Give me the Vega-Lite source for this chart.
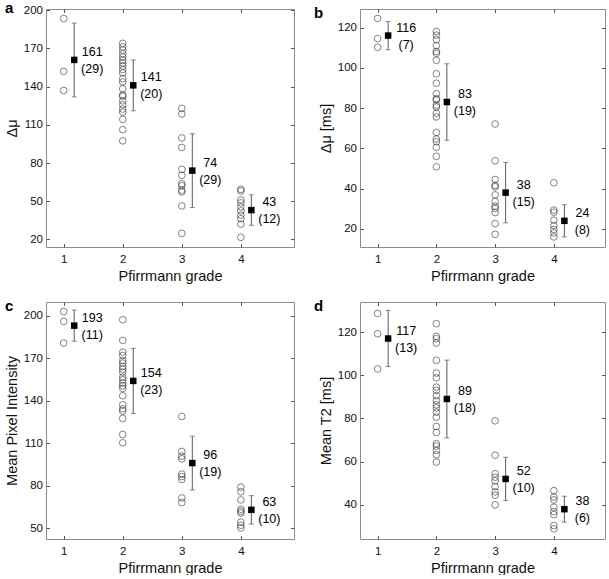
{
  "$schema": "https://vega.github.io/schema/vega-lite/v6.json",
  "padding": {"left": 3, "top": 0, "right": 0, "bottom": 0},
  "config": {
    "font": "Liberation Sans",
    "view": {"stroke": "#8c8c8c", "strokeWidth": 1},
    "axis": {
      "domain": false, "grid": false, "tickSize": -3.5, "tickColor": "#555",
      "labelFont": "Liberation Sans", "labelFontSize": 11.5, "labelColor": "#111", "labelPadding": 7,
      "titleFont": "Liberation Sans", "titleFontSize": 14.5, "titleFontWeight": "normal", "titleColor": "#111"
    },
    "axisX": {"labelPadding": 10},
    "title": {"font": "Liberation Sans", "fontSize": 15, "fontWeight": "bold", "color": "#000", "anchor": "start", "frame": "group", "baseline": "alphabetic", "offset": -4, "dy": 8}
  },
  "datasets": {
    "points": [
      {"panel": "a", "grade": 1, "value": 193.5}, {"panel": "a", "grade": 1, "value": 152}, {"panel": "a", "grade": 1, "value": 137},
      {"panel": "a", "grade": 2, "value": 174}, {"panel": "a", "grade": 2, "value": 171.3}, {"panel": "a", "grade": 2, "value": 168.7}, {"panel": "a", "grade": 2, "value": 165.9},
      {"panel": "a", "grade": 2, "value": 163.3}, {"panel": "a", "grade": 2, "value": 160.7}, {"panel": "a", "grade": 2, "value": 158.6}, {"panel": "a", "grade": 2, "value": 156.2},
      {"panel": "a", "grade": 2, "value": 153.4}, {"panel": "a", "grade": 2, "value": 150.8}, {"panel": "a", "grade": 2, "value": 146.3}, {"panel": "a", "grade": 2, "value": 143.7},
      {"panel": "a", "grade": 2, "value": 138.3}, {"panel": "a", "grade": 2, "value": 133.3}, {"panel": "a", "grade": 2, "value": 132.5}, {"panel": "a", "grade": 2, "value": 128.9},
      {"panel": "a", "grade": 2, "value": 125.8}, {"panel": "a", "grade": 2, "value": 122.4}, {"panel": "a", "grade": 2, "value": 120}, {"panel": "a", "grade": 2, "value": 114.3},
      {"panel": "a", "grade": 2, "value": 106.2}, {"panel": "a", "grade": 2, "value": 97.4},
      {"panel": "a", "grade": 3, "value": 122.9}, {"panel": "a", "grade": 3, "value": 118.5}, {"panel": "a", "grade": 3, "value": 99.7}, {"panel": "a", "grade": 3, "value": 92.2},
      {"panel": "a", "grade": 3, "value": 75}, {"panel": "a", "grade": 3, "value": 70.3}, {"panel": "a", "grade": 3, "value": 63.8}, {"panel": "a", "grade": 3, "value": 62.2},
      {"panel": "a", "grade": 3, "value": 58.6}, {"panel": "a", "grade": 3, "value": 57.3}, {"panel": "a", "grade": 3, "value": 46.3}, {"panel": "a", "grade": 3, "value": 24.7},
      {"panel": "a", "grade": 4, "value": 59.3}, {"panel": "a", "grade": 4, "value": 58}, {"panel": "a", "grade": 4, "value": 51}, {"panel": "a", "grade": 4, "value": 48.7},
      {"panel": "a", "grade": 4, "value": 45.5}, {"panel": "a", "grade": 4, "value": 42.4}, {"panel": "a", "grade": 4, "value": 39}, {"panel": "a", "grade": 4, "value": 36.2},
      {"panel": "a", "grade": 4, "value": 32}, {"panel": "a", "grade": 4, "value": 21.6},

      {"panel": "b", "grade": 1, "value": 124.5}, {"panel": "b", "grade": 1, "value": 114.5}, {"panel": "b", "grade": 1, "value": 110.2},
      {"panel": "b", "grade": 2, "value": 118}, {"panel": "b", "grade": 2, "value": 116.2}, {"panel": "b", "grade": 2, "value": 114}, {"panel": "b", "grade": 2, "value": 111},
      {"panel": "b", "grade": 2, "value": 108.1}, {"panel": "b", "grade": 2, "value": 107.2}, {"panel": "b", "grade": 2, "value": 103.7}, {"panel": "b", "grade": 2, "value": 97},
      {"panel": "b", "grade": 2, "value": 92.3}, {"panel": "b", "grade": 2, "value": 87.2}, {"panel": "b", "grade": 2, "value": 84.7}, {"panel": "b", "grade": 2, "value": 84},
      {"panel": "b", "grade": 2, "value": 81.4}, {"panel": "b", "grade": 2, "value": 80.5}, {"panel": "b", "grade": 2, "value": 77.4}, {"panel": "b", "grade": 2, "value": 75.6},
      {"panel": "b", "grade": 2, "value": 67.9}, {"panel": "b", "grade": 2, "value": 64.6}, {"panel": "b", "grade": 2, "value": 63.3}, {"panel": "b", "grade": 2, "value": 60.5},
      {"panel": "b", "grade": 2, "value": 56}, {"panel": "b", "grade": 2, "value": 50.8},
      {"panel": "b", "grade": 3, "value": 72.1}, {"panel": "b", "grade": 3, "value": 53.8}, {"panel": "b", "grade": 3, "value": 44.5}, {"panel": "b", "grade": 3, "value": 41.6},
      {"panel": "b", "grade": 3, "value": 40.9}, {"panel": "b", "grade": 3, "value": 36.9}, {"panel": "b", "grade": 3, "value": 33.6}, {"panel": "b", "grade": 3, "value": 31.3},
      {"panel": "b", "grade": 3, "value": 30.1}, {"panel": "b", "grade": 3, "value": 28.1}, {"panel": "b", "grade": 3, "value": 22.6}, {"panel": "b", "grade": 3, "value": 17.3},
      {"panel": "b", "grade": 4, "value": 42.9}, {"panel": "b", "grade": 4, "value": 29.3}, {"panel": "b", "grade": 4, "value": 28.3}, {"panel": "b", "grade": 4, "value": 24.3},
      {"panel": "b", "grade": 4, "value": 21.7}, {"panel": "b", "grade": 4, "value": 19.7}, {"panel": "b", "grade": 4, "value": 18}, {"panel": "b", "grade": 4, "value": 16},

      {"panel": "c", "grade": 1, "value": 203}, {"panel": "c", "grade": 1, "value": 196}, {"panel": "c", "grade": 1, "value": 180.7},
      {"panel": "c", "grade": 2, "value": 197.2}, {"panel": "c", "grade": 2, "value": 182.6}, {"panel": "c", "grade": 2, "value": 174.3}, {"panel": "c", "grade": 2, "value": 172},
      {"panel": "c", "grade": 2, "value": 168.4}, {"panel": "c", "grade": 2, "value": 166.6}, {"panel": "c", "grade": 2, "value": 164.2}, {"panel": "c", "grade": 2, "value": 162.3},
      {"panel": "c", "grade": 2, "value": 160.2}, {"panel": "c", "grade": 2, "value": 156.7}, {"panel": "c", "grade": 2, "value": 154.8}, {"panel": "c", "grade": 2, "value": 152.4},
      {"panel": "c", "grade": 2, "value": 150.5}, {"panel": "c", "grade": 2, "value": 148.7}, {"panel": "c", "grade": 2, "value": 143.5}, {"panel": "c", "grade": 2, "value": 137.1},
      {"panel": "c", "grade": 2, "value": 134.3}, {"panel": "c", "grade": 2, "value": 132.7}, {"panel": "c", "grade": 2, "value": 127.5}, {"panel": "c", "grade": 2, "value": 116.2},
      {"panel": "c", "grade": 2, "value": 110.3},
      {"panel": "c", "grade": 3, "value": 128.9}, {"panel": "c", "grade": 3, "value": 104.2}, {"panel": "c", "grade": 3, "value": 100.9}, {"panel": "c", "grade": 3, "value": 99},
      {"panel": "c", "grade": 3, "value": 88.2}, {"panel": "c", "grade": 3, "value": 86.5}, {"panel": "c", "grade": 3, "value": 84.4}, {"panel": "c", "grade": 3, "value": 71.4},
      {"panel": "c", "grade": 3, "value": 68.1},
      {"panel": "c", "grade": 4, "value": 79}, {"panel": "c", "grade": 4, "value": 75.7}, {"panel": "c", "grade": 4, "value": 70}, {"panel": "c", "grade": 4, "value": 63.4},
      {"panel": "c", "grade": 4, "value": 62}, {"panel": "c", "grade": 4, "value": 60.8}, {"panel": "c", "grade": 4, "value": 54.3}, {"panel": "c", "grade": 4, "value": 52.1},
      {"panel": "c", "grade": 4, "value": 50.2},

      {"panel": "d", "grade": 1, "value": 128.6}, {"panel": "d", "grade": 1, "value": 119.2}, {"panel": "d", "grade": 1, "value": 102.9},
      {"panel": "d", "grade": 2, "value": 123.9}, {"panel": "d", "grade": 2, "value": 118}, {"panel": "d", "grade": 2, "value": 116.9}, {"panel": "d", "grade": 2, "value": 114.9},
      {"panel": "d", "grade": 2, "value": 106.9}, {"panel": "d", "grade": 2, "value": 101}, {"panel": "d", "grade": 2, "value": 98.8}, {"panel": "d", "grade": 2, "value": 94.5},
      {"panel": "d", "grade": 2, "value": 93}, {"panel": "d", "grade": 2, "value": 90.5}, {"panel": "d", "grade": 2, "value": 88.3}, {"panel": "d", "grade": 2, "value": 86.3},
      {"panel": "d", "grade": 2, "value": 84.9}, {"panel": "d", "grade": 2, "value": 82.9}, {"panel": "d", "grade": 2, "value": 80.6}, {"panel": "d", "grade": 2, "value": 76.3},
      {"panel": "d", "grade": 2, "value": 73.5}, {"panel": "d", "grade": 2, "value": 68.3}, {"panel": "d", "grade": 2, "value": 67.2}, {"panel": "d", "grade": 2, "value": 65.2},
      {"panel": "d", "grade": 2, "value": 63.2}, {"panel": "d", "grade": 2, "value": 59.8},
      {"panel": "d", "grade": 3, "value": 78.9}, {"panel": "d", "grade": 3, "value": 63}, {"panel": "d", "grade": 3, "value": 54.4}, {"panel": "d", "grade": 3, "value": 52.8},
      {"panel": "d", "grade": 3, "value": 51.1}, {"panel": "d", "grade": 3, "value": 48.5}, {"panel": "d", "grade": 3, "value": 46}, {"panel": "d", "grade": 3, "value": 44.5},
      {"panel": "d", "grade": 3, "value": 40},
      {"panel": "d", "grade": 4, "value": 46.6}, {"panel": "d", "grade": 4, "value": 43.6}, {"panel": "d", "grade": 4, "value": 42.3}, {"panel": "d", "grade": 4, "value": 38.9},
      {"panel": "d", "grade": 4, "value": 36.9}, {"panel": "d", "grade": 4, "value": 35.5}, {"panel": "d", "grade": 4, "value": 30.4}, {"panel": "d", "grade": 4, "value": 28.9}
    ],
    "summary": [
      {"panel": "a", "grade": 1, "mean": 161, "sd": 29, "lo": 132, "hi": 190},
      {"panel": "a", "grade": 2, "mean": 141, "sd": 20, "lo": 121, "hi": 161},
      {"panel": "a", "grade": 3, "mean": 74, "sd": 29, "lo": 45, "hi": 103},
      {"panel": "a", "grade": 4, "mean": 43, "sd": 12, "lo": 31, "hi": 55},
      {"panel": "b", "grade": 1, "mean": 116, "sd": 7, "lo": 109, "hi": 123},
      {"panel": "b", "grade": 2, "mean": 83, "sd": 19, "lo": 64, "hi": 102},
      {"panel": "b", "grade": 3, "mean": 38, "sd": 15, "lo": 23, "hi": 53},
      {"panel": "b", "grade": 4, "mean": 24, "sd": 8, "lo": 16, "hi": 32},
      {"panel": "c", "grade": 1, "mean": 193, "sd": 11, "lo": 182, "hi": 204},
      {"panel": "c", "grade": 2, "mean": 154, "sd": 23, "lo": 131, "hi": 177},
      {"panel": "c", "grade": 3, "mean": 96, "sd": 19, "lo": 77, "hi": 115},
      {"panel": "c", "grade": 4, "mean": 63, "sd": 10, "lo": 53, "hi": 73},
      {"panel": "d", "grade": 1, "mean": 117, "sd": 13, "lo": 104, "hi": 130},
      {"panel": "d", "grade": 2, "mean": 89, "sd": 18, "lo": 71, "hi": 107},
      {"panel": "d", "grade": 3, "mean": 52, "sd": 10, "lo": 42, "hi": 62},
      {"panel": "d", "grade": 4, "mean": 38, "sd": 6, "lo": 32, "hi": 44}
    ]
  },
  "columns": 2,
  "spacing": {"column": 18, "row": 15},
  "concat": [
    {
      "width": 248, "height": 238,
      "title": {"text": "a", "dx": -41},
      "resolve": {"axis": {"x": "independent", "y": "independent"}},
      "layer": [
        {
          "data": {"name": "points"}, "transform": [{"filter": "datum.panel == 'a'"}],
          "mark": {"type": "point", "shape": "circle", "filled": false, "size": 45, "stroke": "#222", "strokeWidth": 0.8},
          "encoding": {
            "x": {"field": "grade", "type": "quantitative", "scale": {"domain": [0.7, 4.9], "nice": false, "zero": false}, "axis": {"values": [1, 2, 3, 4], "title": "Pfirrmann grade"}},
            "y": {"field": "value", "type": "quantitative", "scale": {"domain": [14, 201], "nice": false, "zero": false}, "axis": {"values": [20, 50, 80, 110, 140, 170, 200], "title": "Δμ"}}
          }
        },
        {
          "data": {"name": "summary"}, "transform": [{"filter": "datum.panel == 'a'"}],
          "mark": {"type": "rule", "color": "#5a5a5a", "strokeWidth": 1},
          "encoding": {
            "x": {"field": "grade", "type": "quantitative", "scale": {"domain": [0.7, 4.9], "nice": false, "zero": false}, "axis": null},
            "xOffset": {"value": 10.5},
            "y": {"field": "lo", "type": "quantitative", "scale": {"domain": [14, 201], "nice": false, "zero": false}, "axis": null},
            "y2": {"field": "hi"}
          }
        },
        {
          "data": {"name": "summary"}, "transform": [{"filter": "datum.panel == 'a'"}],
          "mark": {"type": "tick", "orient": "horizontal", "color": "#5a5a5a", "size": 5, "thickness": 1},
          "encoding": {
            "x": {"field": "grade", "type": "quantitative", "scale": {"domain": [0.7, 4.9], "nice": false, "zero": false}, "axis": null},
            "xOffset": {"value": 10.5},
            "y": {"field": "lo", "type": "quantitative", "scale": {"domain": [14, 201], "nice": false, "zero": false}, "axis": null}
          }
        },
        {
          "data": {"name": "summary"}, "transform": [{"filter": "datum.panel == 'a'"}],
          "mark": {"type": "tick", "orient": "horizontal", "color": "#5a5a5a", "size": 5, "thickness": 1},
          "encoding": {
            "x": {"field": "grade", "type": "quantitative", "scale": {"domain": [0.7, 4.9], "nice": false, "zero": false}, "axis": null},
            "xOffset": {"value": 10.5},
            "y": {"field": "hi", "type": "quantitative", "scale": {"domain": [14, 201], "nice": false, "zero": false}, "axis": null}
          }
        },
        {
          "data": {"name": "summary"}, "transform": [{"filter": "datum.panel == 'a'"}],
          "mark": {"type": "point", "shape": "square", "filled": true, "color": "#000", "opacity": 1, "size": 42},
          "encoding": {
            "x": {"field": "grade", "type": "quantitative", "scale": {"domain": [0.7, 4.9], "nice": false, "zero": false}, "axis": {"orient": "top", "values": [1, 2, 3, 4], "labels": false, "title": null}},
            "xOffset": {"value": 10.5},
            "y": {"field": "mean", "type": "quantitative", "scale": {"domain": [14, 201], "nice": false, "zero": false}, "axis": {"orient": "right", "values": [20, 50, 80, 110, 140, 170, 200], "labels": false, "title": null}}
          }
        },
        {
          "data": {"name": "summary"}, "transform": [{"filter": "datum.panel == 'a'"}, {"calculate": "'(' + datum.sd + ')'", "as": "sdText"}],
          "mark": {"type": "text", "align": "center", "baseline": "middle", "fontSize": 12.5, "color": "#000", "dx": 28.5, "dy": 9},
          "encoding": {
            "x": {"field": "grade", "type": "quantitative", "scale": {"domain": [0.7, 4.9], "nice": false, "zero": false}, "axis": null},
            "y": {"field": "mean", "type": "quantitative", "scale": {"domain": [14, 201], "nice": false, "zero": false}, "axis": null},
            "text": {"field": "sdText"}
          }
        },
        {
          "data": {"name": "summary"}, "transform": [{"filter": "datum.panel == 'a'"}],
          "mark": {"type": "text", "align": "center", "baseline": "middle", "fontSize": 12.5, "color": "#000", "dx": 28.5, "dy": -8},
          "encoding": {
            "x": {"field": "grade", "type": "quantitative", "scale": {"domain": [0.7, 4.9], "nice": false, "zero": false}, "axis": null},
            "y": {"field": "mean", "type": "quantitative", "scale": {"domain": [14, 201], "nice": false, "zero": false}, "axis": null},
            "text": {"field": "mean", "type": "quantitative"}
          }
        }
      ]
    },
    {
      "width": 245, "height": 238,
      "title": {"text": "b", "dx": -46},
      "resolve": {"axis": {"x": "independent", "y": "independent"}},
      "layer": [
        {
          "data": {"name": "points"}, "transform": [{"filter": "datum.panel == 'b'"}],
          "mark": {"type": "point", "shape": "circle", "filled": false, "size": 45, "stroke": "#222", "strokeWidth": 0.8},
          "encoding": {
            "x": {"field": "grade", "type": "quantitative", "scale": {"domain": [0.7, 4.87], "nice": false, "zero": false}, "axis": {"values": [1, 2, 3, 4], "title": "Pfirrmann grade"}},
            "y": {"field": "value", "type": "quantitative", "scale": {"domain": [11, 129.2], "nice": false, "zero": false}, "axis": {"values": [20, 40, 60, 80, 100, 120], "title": "Δμ [ms]"}}
          }
        },
        {
          "data": {"name": "summary"}, "transform": [{"filter": "datum.panel == 'b'"}],
          "mark": {"type": "rule", "color": "#5a5a5a", "strokeWidth": 1},
          "encoding": {
            "x": {"field": "grade", "type": "quantitative", "scale": {"domain": [0.7, 4.87], "nice": false, "zero": false}, "axis": null},
            "xOffset": {"value": 10.5},
            "y": {"field": "lo", "type": "quantitative", "scale": {"domain": [11, 129.2], "nice": false, "zero": false}, "axis": null},
            "y2": {"field": "hi"}
          }
        },
        {
          "data": {"name": "summary"}, "transform": [{"filter": "datum.panel == 'b'"}],
          "mark": {"type": "tick", "orient": "horizontal", "color": "#5a5a5a", "size": 5, "thickness": 1},
          "encoding": {
            "x": {"field": "grade", "type": "quantitative", "scale": {"domain": [0.7, 4.87], "nice": false, "zero": false}, "axis": null},
            "xOffset": {"value": 10.5},
            "y": {"field": "lo", "type": "quantitative", "scale": {"domain": [11, 129.2], "nice": false, "zero": false}, "axis": null}
          }
        },
        {
          "data": {"name": "summary"}, "transform": [{"filter": "datum.panel == 'b'"}],
          "mark": {"type": "tick", "orient": "horizontal", "color": "#5a5a5a", "size": 5, "thickness": 1},
          "encoding": {
            "x": {"field": "grade", "type": "quantitative", "scale": {"domain": [0.7, 4.87], "nice": false, "zero": false}, "axis": null},
            "xOffset": {"value": 10.5},
            "y": {"field": "hi", "type": "quantitative", "scale": {"domain": [11, 129.2], "nice": false, "zero": false}, "axis": null}
          }
        },
        {
          "data": {"name": "summary"}, "transform": [{"filter": "datum.panel == 'b'"}],
          "mark": {"type": "point", "shape": "square", "filled": true, "color": "#000", "opacity": 1, "size": 42},
          "encoding": {
            "x": {"field": "grade", "type": "quantitative", "scale": {"domain": [0.7, 4.87], "nice": false, "zero": false}, "axis": {"orient": "top", "values": [1, 2, 3, 4], "labels": false, "title": null}},
            "xOffset": {"value": 10.5},
            "y": {"field": "mean", "type": "quantitative", "scale": {"domain": [11, 129.2], "nice": false, "zero": false}, "axis": {"orient": "right", "values": [20, 40, 60, 80, 100, 120], "labels": false, "title": null}}
          }
        },
        {
          "data": {"name": "summary"}, "transform": [{"filter": "datum.panel == 'b'"}, {"calculate": "'(' + datum.sd + ')'", "as": "sdText"}],
          "mark": {"type": "text", "align": "center", "baseline": "middle", "fontSize": 12.5, "color": "#000", "dx": 28.5, "dy": 9},
          "encoding": {
            "x": {"field": "grade", "type": "quantitative", "scale": {"domain": [0.7, 4.87], "nice": false, "zero": false}, "axis": null},
            "y": {"field": "mean", "type": "quantitative", "scale": {"domain": [11, 129.2], "nice": false, "zero": false}, "axis": null},
            "text": {"field": "sdText"}
          }
        },
        {
          "data": {"name": "summary"}, "transform": [{"filter": "datum.panel == 'b'"}],
          "mark": {"type": "text", "align": "center", "baseline": "middle", "fontSize": 12.5, "color": "#000", "dx": 28.5, "dy": -8},
          "encoding": {
            "x": {"field": "grade", "type": "quantitative", "scale": {"domain": [0.7, 4.87], "nice": false, "zero": false}, "axis": null},
            "y": {"field": "mean", "type": "quantitative", "scale": {"domain": [11, 129.2], "nice": false, "zero": false}, "axis": null},
            "text": {"field": "mean", "type": "quantitative"}
          }
        }
      ]
    },
    {
      "width": 248, "height": 237,
      "title": {"text": "c", "dx": -41},
      "resolve": {"axis": {"x": "independent", "y": "independent"}},
      "layer": [
        {
          "data": {"name": "points"}, "transform": [{"filter": "datum.panel == 'c'"}],
          "mark": {"type": "point", "shape": "circle", "filled": false, "size": 45, "stroke": "#222", "strokeWidth": 0.8},
          "encoding": {
            "x": {"field": "grade", "type": "quantitative", "scale": {"domain": [0.7, 4.9], "nice": false, "zero": false}, "axis": {"values": [1, 2, 3, 4], "title": "Pfirrmann grade"}},
            "y": {"field": "value", "type": "quantitative", "scale": {"domain": [42.4, 209.7], "nice": false, "zero": false}, "axis": {"values": [50, 80, 110, 140, 170, 200], "title": "Mean Pixel Intensity"}}
          }
        },
        {
          "data": {"name": "summary"}, "transform": [{"filter": "datum.panel == 'c'"}],
          "mark": {"type": "rule", "color": "#5a5a5a", "strokeWidth": 1},
          "encoding": {
            "x": {"field": "grade", "type": "quantitative", "scale": {"domain": [0.7, 4.9], "nice": false, "zero": false}, "axis": null},
            "xOffset": {"value": 10.5},
            "y": {"field": "lo", "type": "quantitative", "scale": {"domain": [42.4, 209.7], "nice": false, "zero": false}, "axis": null},
            "y2": {"field": "hi"}
          }
        },
        {
          "data": {"name": "summary"}, "transform": [{"filter": "datum.panel == 'c'"}],
          "mark": {"type": "tick", "orient": "horizontal", "color": "#5a5a5a", "size": 5, "thickness": 1},
          "encoding": {
            "x": {"field": "grade", "type": "quantitative", "scale": {"domain": [0.7, 4.9], "nice": false, "zero": false}, "axis": null},
            "xOffset": {"value": 10.5},
            "y": {"field": "lo", "type": "quantitative", "scale": {"domain": [42.4, 209.7], "nice": false, "zero": false}, "axis": null}
          }
        },
        {
          "data": {"name": "summary"}, "transform": [{"filter": "datum.panel == 'c'"}],
          "mark": {"type": "tick", "orient": "horizontal", "color": "#5a5a5a", "size": 5, "thickness": 1},
          "encoding": {
            "x": {"field": "grade", "type": "quantitative", "scale": {"domain": [0.7, 4.9], "nice": false, "zero": false}, "axis": null},
            "xOffset": {"value": 10.5},
            "y": {"field": "hi", "type": "quantitative", "scale": {"domain": [42.4, 209.7], "nice": false, "zero": false}, "axis": null}
          }
        },
        {
          "data": {"name": "summary"}, "transform": [{"filter": "datum.panel == 'c'"}],
          "mark": {"type": "point", "shape": "square", "filled": true, "color": "#000", "opacity": 1, "size": 42},
          "encoding": {
            "x": {"field": "grade", "type": "quantitative", "scale": {"domain": [0.7, 4.9], "nice": false, "zero": false}, "axis": {"orient": "top", "values": [1, 2, 3, 4], "labels": false, "title": null}},
            "xOffset": {"value": 10.5},
            "y": {"field": "mean", "type": "quantitative", "scale": {"domain": [42.4, 209.7], "nice": false, "zero": false}, "axis": {"orient": "right", "values": [50, 80, 110, 140, 170, 200], "labels": false, "title": null}}
          }
        },
        {
          "data": {"name": "summary"}, "transform": [{"filter": "datum.panel == 'c'"}, {"calculate": "'(' + datum.sd + ')'", "as": "sdText"}],
          "mark": {"type": "text", "align": "center", "baseline": "middle", "fontSize": 12.5, "color": "#000", "dx": 28.5, "dy": 9},
          "encoding": {
            "x": {"field": "grade", "type": "quantitative", "scale": {"domain": [0.7, 4.9], "nice": false, "zero": false}, "axis": null},
            "y": {"field": "mean", "type": "quantitative", "scale": {"domain": [42.4, 209.7], "nice": false, "zero": false}, "axis": null},
            "text": {"field": "sdText"}
          }
        },
        {
          "data": {"name": "summary"}, "transform": [{"filter": "datum.panel == 'c'"}],
          "mark": {"type": "text", "align": "center", "baseline": "middle", "fontSize": 12.5, "color": "#000", "dx": 28.5, "dy": -8},
          "encoding": {
            "x": {"field": "grade", "type": "quantitative", "scale": {"domain": [0.7, 4.9], "nice": false, "zero": false}, "axis": null},
            "y": {"field": "mean", "type": "quantitative", "scale": {"domain": [42.4, 209.7], "nice": false, "zero": false}, "axis": null},
            "text": {"field": "mean", "type": "quantitative"}
          }
        }
      ]
    },
    {
      "width": 245, "height": 237,
      "title": {"text": "d", "dx": -46},
      "resolve": {"axis": {"x": "independent", "y": "independent"}},
      "layer": [
        {
          "data": {"name": "points"}, "transform": [{"filter": "datum.panel == 'd'"}],
          "mark": {"type": "point", "shape": "circle", "filled": false, "size": 45, "stroke": "#222", "strokeWidth": 0.8},
          "encoding": {
            "x": {"field": "grade", "type": "quantitative", "scale": {"domain": [0.7, 4.87], "nice": false, "zero": false}, "axis": {"values": [1, 2, 3, 4], "title": "Pfirrmann grade"}},
            "y": {"field": "value", "type": "quantitative", "scale": {"domain": [24.2, 133.9], "nice": false, "zero": false}, "axis": {"values": [40, 60, 80, 100, 120], "title": "Mean T2 [ms]"}}
          }
        },
        {
          "data": {"name": "summary"}, "transform": [{"filter": "datum.panel == 'd'"}],
          "mark": {"type": "rule", "color": "#5a5a5a", "strokeWidth": 1},
          "encoding": {
            "x": {"field": "grade", "type": "quantitative", "scale": {"domain": [0.7, 4.87], "nice": false, "zero": false}, "axis": null},
            "xOffset": {"value": 10.5},
            "y": {"field": "lo", "type": "quantitative", "scale": {"domain": [24.2, 133.9], "nice": false, "zero": false}, "axis": null},
            "y2": {"field": "hi"}
          }
        },
        {
          "data": {"name": "summary"}, "transform": [{"filter": "datum.panel == 'd'"}],
          "mark": {"type": "tick", "orient": "horizontal", "color": "#5a5a5a", "size": 5, "thickness": 1},
          "encoding": {
            "x": {"field": "grade", "type": "quantitative", "scale": {"domain": [0.7, 4.87], "nice": false, "zero": false}, "axis": null},
            "xOffset": {"value": 10.5},
            "y": {"field": "lo", "type": "quantitative", "scale": {"domain": [24.2, 133.9], "nice": false, "zero": false}, "axis": null}
          }
        },
        {
          "data": {"name": "summary"}, "transform": [{"filter": "datum.panel == 'd'"}],
          "mark": {"type": "tick", "orient": "horizontal", "color": "#5a5a5a", "size": 5, "thickness": 1},
          "encoding": {
            "x": {"field": "grade", "type": "quantitative", "scale": {"domain": [0.7, 4.87], "nice": false, "zero": false}, "axis": null},
            "xOffset": {"value": 10.5},
            "y": {"field": "hi", "type": "quantitative", "scale": {"domain": [24.2, 133.9], "nice": false, "zero": false}, "axis": null}
          }
        },
        {
          "data": {"name": "summary"}, "transform": [{"filter": "datum.panel == 'd'"}],
          "mark": {"type": "point", "shape": "square", "filled": true, "color": "#000", "opacity": 1, "size": 42},
          "encoding": {
            "x": {"field": "grade", "type": "quantitative", "scale": {"domain": [0.7, 4.87], "nice": false, "zero": false}, "axis": {"orient": "top", "values": [1, 2, 3, 4], "labels": false, "title": null}},
            "xOffset": {"value": 10.5},
            "y": {"field": "mean", "type": "quantitative", "scale": {"domain": [24.2, 133.9], "nice": false, "zero": false}, "axis": {"orient": "right", "values": [40, 60, 80, 100, 120], "labels": false, "title": null}}
          }
        },
        {
          "data": {"name": "summary"}, "transform": [{"filter": "datum.panel == 'd'"}, {"calculate": "'(' + datum.sd + ')'", "as": "sdText"}],
          "mark": {"type": "text", "align": "center", "baseline": "middle", "fontSize": 12.5, "color": "#000", "dx": 28.5, "dy": 9},
          "encoding": {
            "x": {"field": "grade", "type": "quantitative", "scale": {"domain": [0.7, 4.87], "nice": false, "zero": false}, "axis": null},
            "y": {"field": "mean", "type": "quantitative", "scale": {"domain": [24.2, 133.9], "nice": false, "zero": false}, "axis": null},
            "text": {"field": "sdText"}
          }
        },
        {
          "data": {"name": "summary"}, "transform": [{"filter": "datum.panel == 'd'"}],
          "mark": {"type": "text", "align": "center", "baseline": "middle", "fontSize": 12.5, "color": "#000", "dx": 28.5, "dy": -8},
          "encoding": {
            "x": {"field": "grade", "type": "quantitative", "scale": {"domain": [0.7, 4.87], "nice": false, "zero": false}, "axis": null},
            "y": {"field": "mean", "type": "quantitative", "scale": {"domain": [24.2, 133.9], "nice": false, "zero": false}, "axis": null},
            "text": {"field": "mean", "type": "quantitative"}
          }
        }
      ]
    }
  ]
}
